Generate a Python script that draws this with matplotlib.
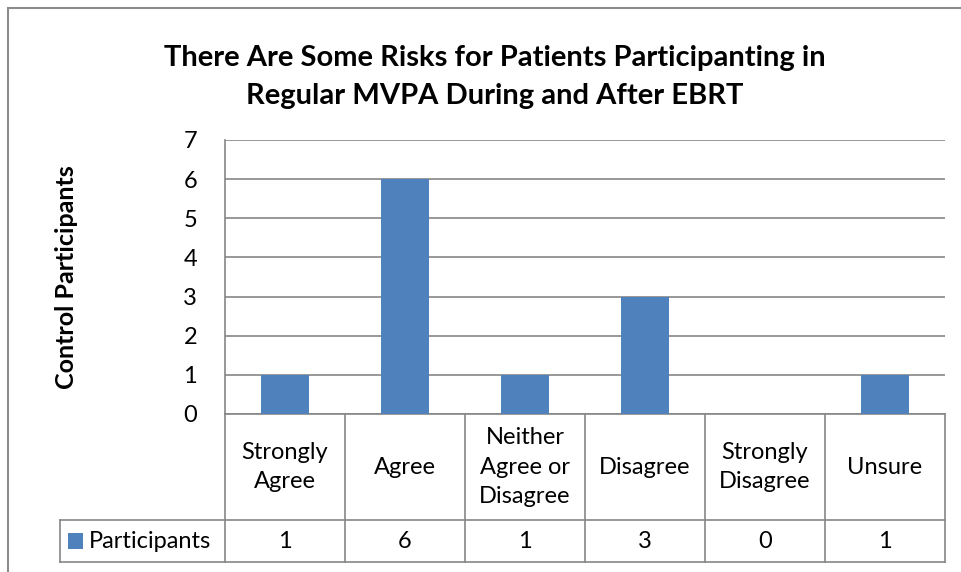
import matplotlib.pyplot as plt
from matplotlib.patches import Rectangle
from matplotlib.lines import Line2D
import matplotlib.transforms as mtransforms

plt.rcParams['font.family'] = ['Lato', 'DejaVu Sans']

# Chart data
categories = ['Strongly\nAgree', 'Agree', 'Neither\nAgree or\nDisagree', 'Disagree',
              'Strongly\nDisagree', 'Unsure']
participants = [1, 6, 1, 3, 0, 1]
series_name = 'Participants'
title = 'There Are Some Risks for Patients Participanting in\nRegular MVPA During and After EBRT'
y_label = 'Control Participants'

bar_color = '#4F81BD'
line_color = '#868686'

fig = plt.figure(figsize=(9.62, 5.72), dpi=100)
W, H = 962, 572

# outer chart border (cut off at right/bottom like the screenshot)
fig.add_artist(Rectangle((8 / W, -0.1), 1.2, 1 - 8 / H + 0.1, transform=fig.transFigure,
                         fill=False, edgecolor='#8c8c8c', linewidth=1.5))

ax = fig.add_axes([225 / W, 1 - 414 / H, 720 / W, 274 / H])
x = list(range(len(categories)))
ax.bar(x, participants, width=0.4, color=bar_color, zorder=3)
ax.set_xlim(-0.5, len(categories) - 0.5)
ax.set_ylim(0, 7)
ax.set_yticks(range(0, 8))
ax.tick_params(axis='y', length=0, labelsize=17, pad=20)
ax.set_xticks([])
ax.yaxis.grid(True, color=line_color, linewidth=1.2)
for s in ['top', 'right']:
    ax.spines[s].set_visible(False)
ax.spines['left'].set_color(line_color)
ax.spines['bottom'].set_color(line_color)
ax.spines['left'].set_linewidth(1.2)
ax.spines['bottom'].set_linewidth(1.2)

ax.set_ylabel(y_label, fontsize=18, fontweight='bold', labelpad=0)
ax.yaxis.set_label_coords((66 - 225) / 720, 0.5)
ax.yaxis.label.set_va('center')

fig.text(495 / W, 1 - 77 / H, title, ha='center', va='center', fontsize=21,
         fontweight='bold', linespacing=1.6)

# data table below the plot (x in data units, y in pixels below axis)
trans = mtransforms.blended_transform_factory(ax.transData, fig.transFigure)
def fy(py):
    return 1 - py / H

row1_top, row1_bot, row2_bot = 414, 520, 562
table_left = -0.5 - (225 - 60) / 120
kw = dict(color=line_color, linewidth=1.2, transform=trans, clip_on=False)
fig.add_artist(Line2D([table_left, len(categories) - 0.5], [fy(row1_bot)] * 2, **kw))
fig.add_artist(Line2D([table_left, len(categories) - 0.5], [fy(row2_bot)] * 2, **kw))
fig.add_artist(Line2D([table_left, table_left], [fy(row1_bot), fy(row2_bot)], **kw))
for i in range(len(categories) + 1):
    fig.add_artist(Line2D([i - 0.5, i - 0.5], [fy(row1_top), fy(row2_bot)], **kw))

for i, (cat, val) in enumerate(zip(categories, participants)):
    fig.text(i, fy((row1_top + row1_bot) / 2), cat, transform=trans, ha='center',
             va='center', fontsize=17, linespacing=1.5)
    fig.text(i, fy((row1_bot + row2_bot) / 2), str(val), transform=trans, ha='center',
             va='center', fontsize=17)

# legend key + series name in the table row
key_y = fy((row1_bot + row2_bot) / 2)
fig.add_artist(Rectangle((68 / W, key_y - 8 / H), 15 / W, 16 / H, transform=fig.transFigure,
                         facecolor=bar_color, edgecolor='none'))
fig.text(89 / W, key_y, series_name, ha='left', va='center', fontsize=17)

fig.savefig('out.png', dpi=100)
